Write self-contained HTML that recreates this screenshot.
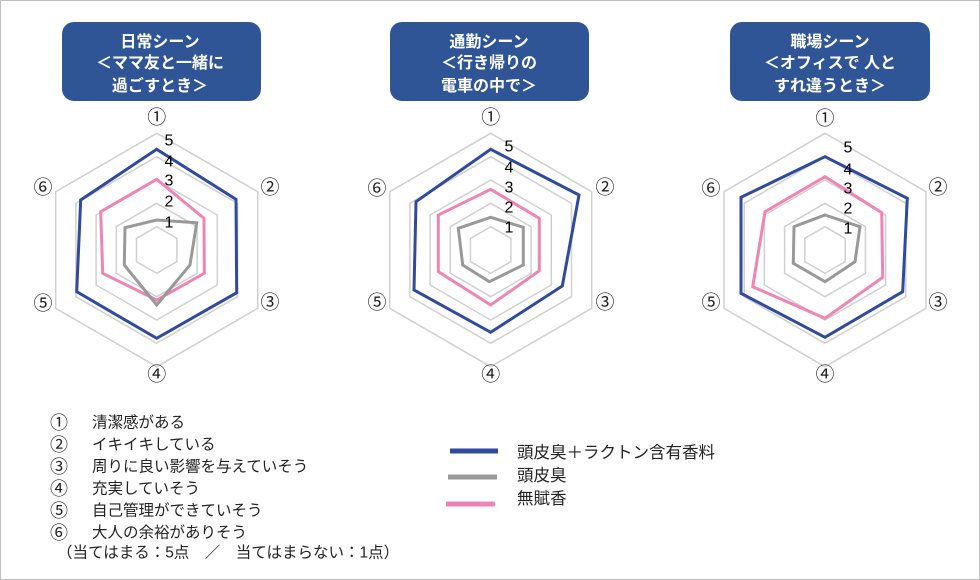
<!DOCTYPE html>
<html><head><meta charset="utf-8"><style>
html,body{margin:0;padding:0;background:#fff}
svg{display:block}
text{font-family:"Liberation Sans","Noto Sans CJK JP",sans-serif}
</style></head><body>
<svg width="980" height="580" viewBox="0 0 980 580" xmlns="http://www.w3.org/2000/svg">
<rect x="0.5" y="0.5" width="979" height="579" fill="#fff" stroke="#bfbfbf"/>
<defs>
<g id="grid" fill="none" stroke="#d0d0d0" stroke-width="1.5">
<polygon points="0,-116.7 101,-58.3 101,58.3 0,116.7 -101,58.3 -101,-58.3"/>
<polygon points="0,-93.3 80.8,-46.7 80.8,46.7 0,93.3 -80.8,46.7 -80.8,-46.7"/>
<polygon points="0,-70 60.6,-35 60.6,35 0,70 -60.6,35 -60.6,-35"/>
<polygon points="0,-46.7 40.4,-23.3 40.4,23.3 0,46.7 -40.4,23.3 -40.4,-23.3"/>
<polygon points="0,-23.3 20.2,-11.7 20.2,11.7 0,23.3 -20.2,11.7 -20.2,-11.7"/>
</g>
</defs>
<g fill="#2f5597">
<rect x="62" y="22" width="199" height="79" rx="12"/>
<rect x="390" y="22" width="199" height="79" rx="12"/>
<rect x="730" y="22" width="200" height="79" rx="12"/>
</g>
<g fill="#fff" font-size="16" font-weight="bold" text-anchor="middle">
<text x="160" y="47">日常シーン</text><text x="160" y="68">＜ママ友と一緒に</text><text x="160" y="91">過ごすとき＞</text>
<text x="489" y="47">通勤シーン</text><text x="489" y="68">＜行き帰りの</text><text x="489" y="91">電車の中で＞</text>
<text x="830" y="47">職場シーン</text><text x="830" y="68">＜オフィスで 人と</text><text x="830" y="91">すれ違うとき＞</text>
</g>
<use href="#grid" x="156.7" y="250"/>
<use href="#grid" x="490.7" y="250"/>
<use href="#grid" x="825" y="250"/>
<g fill="none" stroke-width="3" stroke-linejoin="miter">
<polygon stroke="#2f4a9e" points="156.7,149.3 236,199.3 236.7,292.7 156.7,338.3 76.7,291.7 80.7,200"/>
<polygon stroke="#f084b4" points="156.7,179.3 204,218.3 204.3,273.3 156.7,300 102.7,273.3 100.7,211.7"/>
<polygon stroke="#999" points="156.7,220 196.7,222.7 190,265 156.7,305 124.3,265 125,227.7"/>
<polygon stroke="#2f4a9e" points="490.7,149.3 579,195 562.3,286 490.7,332.3 414,290 416,201.7"/>
<polygon stroke="#f084b4" points="490.7,189.3 539.3,218.3 539.3,270.7 490.7,305 438.3,271.7 438.3,215"/>
<polygon stroke="#999" points="490.7,217.3 523.3,227.3 523.3,265 489.3,281.7 462.7,265 458.3,228.3"/>
<polygon stroke="#2f4a9e" points="825,156.7 907.3,198.3 902.7,291.7 825,337.3 741,293.3 741,197.3"/>
<polygon stroke="#f084b4" points="825,176.7 881.7,212.7 882.7,277.3 825,318.3 752.7,286.7 765,211.7"/>
<polygon stroke="#999" points="825,215 860,226.7 855,261.7 825,281.7 793.3,263.3 794,226.7"/>
</g>
<g font-size="19" fill="#222" text-anchor="middle" dominant-baseline="central">
<text x="156.7" y="118">①</text><text x="270" y="188">②</text><text x="270" y="303">③</text><text x="156.7" y="375">④</text><text x="43" y="304">⑤</text><text x="43" y="188">⑥</text>
<text x="490.7" y="118">①</text><text x="605" y="188">②</text><text x="605" y="303">③</text><text x="490.7" y="375">④</text><text x="377" y="303">⑤</text><text x="377" y="189">⑥</text>
<text x="825" y="119">①</text><text x="938" y="188">②</text><text x="938" y="303">③</text><text x="825" y="375">④</text><text x="711" y="303">⑤</text><text x="711" y="189">⑥</text>
</g>
<g font-size="16" fill="#000" text-anchor="middle" dominant-baseline="central">
<text x="169" y="141">5</text><text x="169" y="162">4</text><text x="169" y="181">3</text><text x="169" y="202">2</text><text x="169" y="223">1</text>
<text x="509" y="147">5</text><text x="509" y="168">4</text><text x="509" y="188">3</text><text x="509" y="208">2</text><text x="509" y="228">1</text>
<text x="848" y="148">5</text><text x="848" y="170">4</text><text x="848" y="189">3</text><text x="848" y="209">2</text><text x="848" y="229">1</text>
</g>
<g font-size="15.5" fill="#222" dominant-baseline="central">
<g font-size="18"><text x="50" y="423">①</text><text x="50" y="445">②</text><text x="50" y="467">③</text><text x="50" y="489">④</text><text x="50" y="511">⑤</text><text x="50" y="533">⑥</text></g>
<text x="92" y="423">清潔感がある</text>
<text x="92" y="445">イキイキしている</text>
<text x="92" y="467">周りに良い影響を与えていそう</text>
<text x="92" y="489">充実していそう</text>
<text x="92" y="511">自己管理ができていそう</text>
<text x="92" y="533">大人の余裕がありそう</text>
<text x="57" y="553">（当てはまる：5点　／　当てはまらない：1点）</text>
</g>
<line x1="450" y1="451" x2="498" y2="451" stroke="#2f4a9e" stroke-width="5"/>
<line x1="448" y1="477" x2="497" y2="477" stroke="#999" stroke-width="5"/>
<line x1="446" y1="504" x2="495" y2="504" stroke="#f084b4" stroke-width="5"/>
<g font-size="16.5" fill="#222" dominant-baseline="central">
<text x="517" y="453">頭皮臭＋ラクトン含有香料</text>
<text x="517" y="476">頭皮臭</text>
<text x="517" y="499">無賦香</text>
</g>
</svg>
</body></html>
